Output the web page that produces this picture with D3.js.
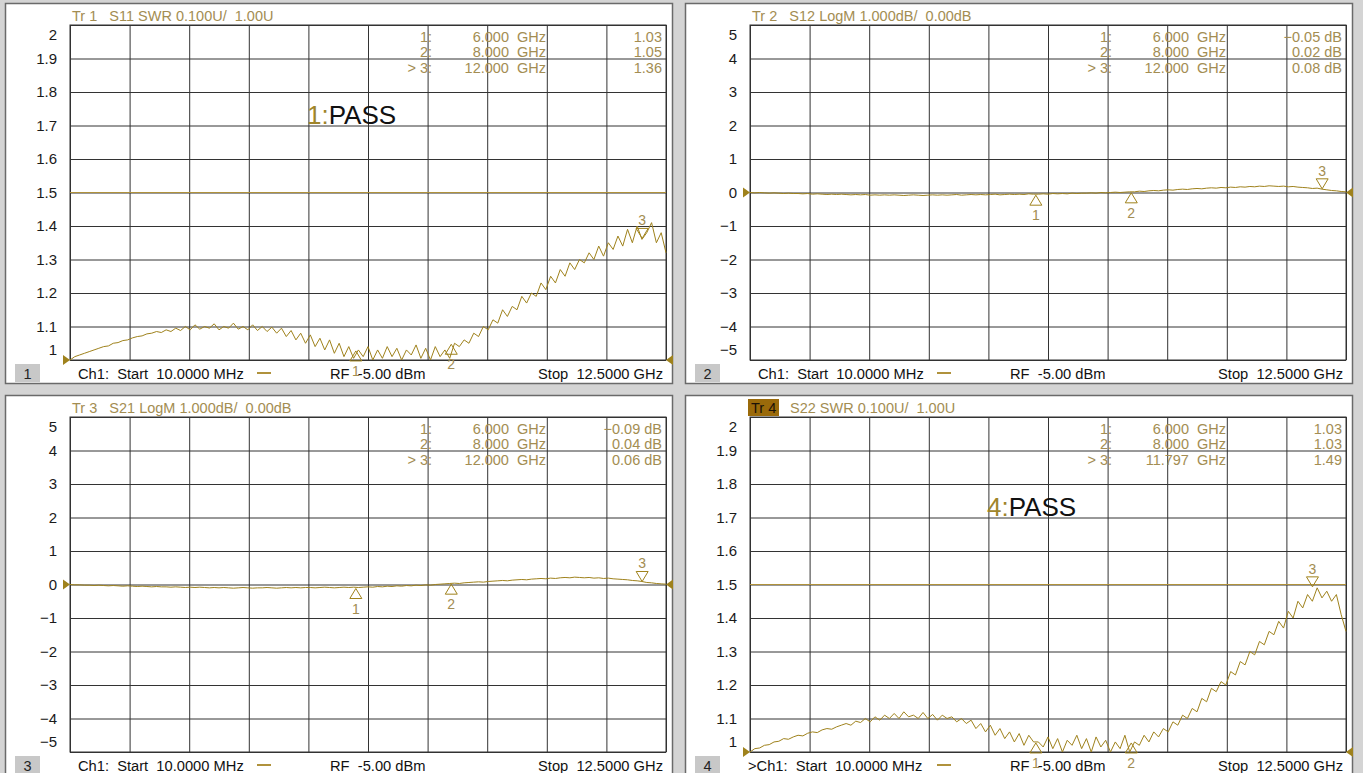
<!DOCTYPE html>
<html>
<head>
<meta charset="utf-8">
<script src="https://cdn.jsdelivr.net/npm/d3@7"></script>
<style>
  body { margin: 0; background: #d4d4d4; font-family: "Liberation Sans", Arial, sans-serif; }
  svg text { white-space: pre; }
</style>
</head>
<body>
<div id="chart"></div>
<script>
// sweep: 125 points, linear from start to stop
const sweepStartGHz = 0.01, sweepStopGHz = 12.5;

// Tr 1  S11 SWR
const s11Swr = [
  1.00,1.01,1.015,1.02,1.025,1.03,1.035,1.04,1.042,1.05,
  1.052,1.058,1.06,1.066,1.07,1.072,1.078,1.08,1.085,1.082,
  1.09,1.085,1.095,1.088,1.10,1.09,1.105,1.092,1.10,1.095,
  1.108,1.09,1.10,1.095,1.11,1.092,1.10,1.09,1.105,1.088,
  1.10,1.085,1.098,1.08,1.095,1.07,1.088,1.06,1.08,1.05,
  1.075,1.04,1.065,1.03,1.06,1.02,1.05,1.01,1.04,1.005,
  1.03,1.01,1.04,1.0,1.03,1.005,1.04,1.01,1.035,1.0,
  1.03,1.015,1.045,1.005,1.035,1.0,1.04,1.01,1.03,1.005,
  1.05,1.04,1.06,1.05,1.08,1.07,1.10,1.09,1.12,1.11,
  1.15,1.13,1.16,1.15,1.19,1.17,1.20,1.19,1.23,1.21,
  1.25,1.23,1.27,1.25,1.29,1.27,1.30,1.29,1.32,1.30,
  1.34,1.31,1.35,1.33,1.37,1.34,1.39,1.35,1.40,1.36,
  1.38,1.41,1.35,1.38,1.32
];

// Tr 2  S12 LogM dB
const s12LogM = [
  0.0,-0.01,0.0,-0.01,-0.02,-0.01,-0.02,-0.03,-0.02,-0.03,
  -0.03,-0.04,-0.03,-0.05,-0.04,-0.05,-0.06,-0.05,-0.06,-0.05,
  -0.06,-0.07,-0.06,-0.07,-0.06,-0.08,-0.07,-0.08,-0.07,-0.08,
  -0.07,-0.08,-0.09,-0.08,-0.07,-0.08,-0.09,-0.08,-0.07,-0.08,
  -0.07,-0.08,-0.07,-0.06,-0.08,-0.07,-0.06,-0.07,-0.06,-0.07,
  -0.06,-0.05,-0.07,-0.06,-0.05,-0.06,-0.05,-0.06,-0.04,-0.05,
  -0.05,-0.04,-0.05,-0.03,-0.04,-0.03,-0.04,-0.02,-0.03,-0.02,
  -0.02,-0.01,-0.02,0.0,-0.01,0.0,0.01,0.0,0.01,0.02,
  0.02,0.04,0.03,0.05,0.06,0.05,0.07,0.08,0.07,0.09,
  0.10,0.09,0.11,0.12,0.11,0.13,0.14,0.13,0.15,0.14,
  0.16,0.15,0.17,0.16,0.18,0.17,0.19,0.18,0.20,0.19,
  0.18,0.19,0.17,0.18,0.16,0.15,0.14,0.12,0.13,0.10,
  0.08,0.06,0.05,0.03,0.02
];

// Tr 3  S21 LogM dB
const s21LogM = [
  0.0,-0.01,-0.01,-0.02,-0.02,-0.03,-0.02,-0.03,-0.04,-0.03,
  -0.04,-0.05,-0.04,-0.05,-0.06,-0.05,-0.06,-0.07,-0.06,-0.07,
  -0.07,-0.08,-0.07,-0.08,-0.09,-0.08,-0.09,-0.08,-0.09,-0.10,
  -0.09,-0.10,-0.09,-0.10,-0.11,-0.10,-0.09,-0.10,-0.11,-0.10,
  -0.10,-0.09,-0.10,-0.11,-0.10,-0.09,-0.10,-0.09,-0.10,-0.09,
  -0.09,-0.10,-0.09,-0.08,-0.09,-0.10,-0.09,-0.08,-0.09,-0.08,
  -0.09,-0.08,-0.07,-0.08,-0.06,-0.07,-0.05,-0.06,-0.04,-0.05,
  -0.03,-0.04,-0.02,-0.03,-0.01,-0.02,0.0,0.01,0.02,0.03,
  0.04,0.03,0.05,0.06,0.07,0.08,0.07,0.09,0.10,0.11,
  0.12,0.11,0.13,0.14,0.15,0.14,0.16,0.17,0.18,0.17,
  0.19,0.18,0.20,0.21,0.20,0.22,0.21,0.20,0.21,0.19,
  0.20,0.18,0.19,0.17,0.16,0.15,0.14,0.12,0.11,0.09,
  0.06,0.05,0.03,0.02,0.01
];

// Tr 4  S22 SWR
const s22Swr = [
  1.00,1.01,1.012,1.02,1.022,1.03,1.032,1.04,1.038,1.045,
  1.05,1.048,1.056,1.06,1.058,1.066,1.07,1.068,1.075,1.08,
  1.085,1.08,1.092,1.088,1.10,1.09,1.105,1.095,1.11,1.10,
  1.115,1.10,1.12,1.105,1.11,1.10,1.118,1.10,1.112,1.095,
  1.11,1.10,1.105,1.09,1.10,1.085,1.095,1.07,1.085,1.06,
  1.08,1.05,1.07,1.04,1.06,1.03,1.055,1.02,1.05,1.03,
  1.03,1.015,1.045,1.01,1.04,1.0,1.035,1.02,1.05,1.01,
  1.04,1.0,1.045,1.015,1.035,1.0,1.03,1.01,1.05,1.0,
  1.03,1.02,1.05,1.03,1.06,1.045,1.07,1.06,1.09,1.08,
  1.11,1.10,1.13,1.12,1.16,1.15,1.19,1.18,1.21,1.20,
  1.24,1.23,1.27,1.26,1.30,1.29,1.33,1.32,1.36,1.35,
  1.39,1.37,1.42,1.40,1.45,1.43,1.47,1.45,1.49,1.46,
  1.48,1.45,1.47,1.41,1.36
];

// marker tables
const mkLabels = ["1:", "2:", "> 3:"];
const mkFreq1 = [6.0, 8.0, 12.0],   mkVal1 = [1.03, 1.05, 1.36];
const mkFreq2 = [6.0, 8.0, 12.0],   mkVal2 = [-0.05, 0.02, 0.08];
const mkFreq3 = [6.0, 8.0, 12.0],   mkVal3 = [-0.09, 0.04, 0.06];
const mkFreq4 = [6.0, 8.0, 11.797], mkVal4 = [1.03, 1.03, 1.49];

const titles = ["Tr 1   S11 SWR 0.100U/  1.00U", "Tr 2   S12 LogM 1.000dB/  0.00dB",
                "Tr 3   S21 LogM 1.000dB/  0.00dB", "S22 SWR 0.100U/  1.00U"];

const gold = "#9f821c", txtGold = "#a38d52";

const panels = [
  {n:1, left:5,   top:3,   title:titles[0], data:s11Swr, yDom:[1,2],  ref:1, limit:1.5, mf:mkFreq1, mv:mkVal1, unit:"",    pass:true,  ch:"Ch1:  Start  10.0000 MHz"},
  {n:2, left:685, top:3,   title:titles[1], data:s12LogM, yDom:[-5,5], ref:0, limit:null, mf:mkFreq2, mv:mkVal2, unit:" dB", pass:false, ch:"Ch1:  Start  10.0000 MHz"},
  {n:3, left:5,   top:395, title:titles[2], data:s21LogM, yDom:[-5,5], ref:0, limit:null, mf:mkFreq3, mv:mkVal3, unit:" dB", pass:false, ch:"Ch1:  Start  10.0000 MHz"},
  {n:4, left:685, top:395, title:titles[3], data:s22Swr, yDom:[1,2],  ref:1, limit:1.5, mf:mkFreq4, mv:mkVal4, unit:"",    pass:true,  ch:">Ch1:  Start  10.0000 MHz"}
];

const svg = d3.select("#chart").append("svg")
  .attr("width", 1363).attr("height", 773);
svg.append("rect").attr("width", 1363).attr("height", 773).attr("fill", "#d4d4d4");

panels.forEach(drawPanel);

function drawPanel(p) {
  const pl = 65, pr = 661, pt = 22, pb = 357;
  const g = svg.append("g").attr("transform", "translate(" + p.left + "," + p.top + ")");

  g.append("rect").attr("x", 0.5).attr("y", 0.5).attr("width", 667).attr("height", 380)
    .attr("fill", "#fff").attr("stroke", "#6a6a6a").attr("stroke-width", 1.5);

  const x = d3.scaleLinear().domain([sweepStartGHz, sweepStopGHz]).range([pl, pr]);
  const y = d3.scaleLinear().domain(p.yDom).range([pb, pt]);
  const n = p.data.length;
  const fOf = i => sweepStartGHz + i * (sweepStopGHz - sweepStartGHz) / (n - 1);

  // grid
  const xGrid = d3.range(11).map(k => sweepStartGHz + k * (sweepStopGHz - sweepStartGHz) / 10);
  g.append("g").attr("transform", "translate(0," + pb + ")")
    .call(d3.axisBottom(x).tickValues(xGrid).tickSize(-(pb - pt)).tickFormat(""))
    .call(s => s.select(".domain").remove())
    .selectAll("line").attr("stroke", "#333");
  g.append("g").attr("transform", "translate(" + pl + ",0)")
    .call(d3.axisLeft(y).ticks(10).tickSize(-(pr - pl)).tickFormat(""))
    .call(s => s.select(".domain").remove())
    .selectAll("line").attr("stroke", "#333");
  g.append("rect").attr("x", pl).attr("y", pt).attr("width", pr - pl).attr("height", pb - pt)
    .attr("fill", "none").attr("stroke", "#333");

  // y labels
  const ya = g.append("g").attr("transform", "translate(" + pl + ",0)")
    .call(d3.axisLeft(y).ticks(10).tickSize(0).tickPadding(13).tickFormat(d3.format("~g")));
  ya.select(".domain").remove();
  ya.selectAll("text").attr("font-size", 15).attr("fill", "#1a1a1a")
    .attr("font-family", "'Liberation Sans', Arial, sans-serif")
    .attr("dy", (d, i, nodes) => i === 0 ? "-0.35em" : (i === nodes.length - 1 ? "0.95em" : "0.32em"));

  // title
  if (p.n === 4) {
    g.append("rect").attr("x", pl - 2).attr("y", 4).attr("width", 31).attr("height", 17).attr("fill", "#9a6a0a");
    g.append("text").attr("x", pl + 1).attr("y", 18).attr("font-size", 14.5).attr("fill", "#1a1208").text("Tr 4");
    g.append("text").attr("x", pl + 40).attr("y", 18).attr("font-size", 14.5).attr("fill", txtGold).text(p.title);
  } else {
    g.append("text").attr("x", pl + 2).attr("y", 18).attr("font-size", 14.5).attr("fill", txtGold).text(p.title);
  }

  // limit line
  if (p.limit !== null) {
    g.append("line").attr("x1", pl).attr("x2", pr).attr("y1", y(p.limit)).attr("y2", y(p.limit))
      .attr("stroke", "#b0923c").attr("stroke-width", 1.2);
  }

  // trace
  const line = d3.line().x((d, i) => x(fOf(i))).y(d => y(d));
  g.append("path").datum(p.data).attr("d", line)
    .attr("fill", "none").attr("stroke", gold).attr("stroke-width", 1);

  // reference arrows
  const ry = y(p.ref);
  g.append("path").attr("d", "M" + (pl - 7) + "," + (ry - 5) + "L" + pl + "," + ry + "L" + (pl - 7) + "," + (ry + 5) + "Z").attr("fill", gold);
  g.append("path").attr("d", "M" + (pr + 7) + "," + (ry - 5) + "L" + pr + "," + ry + "L" + (pr + 7) + "," + (ry + 5) + "Z").attr("fill", gold);

  // markers on trace
  p.mf.forEach((f, i) => {
    const mx = x(f), my = y(p.mv[i]);
    if (i === 2) {
      g.append("path").attr("d", "M" + mx + "," + (my - 1) + "L" + (mx - 6) + "," + (my - 11) + "L" + (mx + 6) + "," + (my - 11) + "Z")
        .attr("fill", "none").attr("stroke", gold);
      g.append("text").attr("x", mx).attr("y", my - 14).attr("text-anchor", "middle")
        .attr("font-size", 14).attr("fill", txtGold).text(String(i + 1));
    } else {
      g.append("path").attr("d", "M" + mx + "," + (my + 1) + "L" + (mx - 6) + "," + (my + 11) + "L" + (mx + 6) + "," + (my + 11) + "Z")
        .attr("fill", "none").attr("stroke", gold);
      g.append("text").attr("x", mx).attr("y", my + 26).attr("text-anchor", "middle")
        .attr("font-size", 14).attr("fill", txtGold).text(String(i + 1));
    }
  });

  // marker table
  const fmtF = d3.format(".3f"), fmtV = d3.format(".2f");
  const rowsY = [39, 54, 70];
  p.mf.forEach((f, i) => {
    g.append("text").attr("x", 427).attr("y", rowsY[i]).attr("text-anchor", "end")
      .attr("font-size", 14.5).attr("fill", txtGold).text(mkLabels[i]);
    g.append("text").attr("x", 541).attr("y", rowsY[i]).attr("text-anchor", "end")
      .attr("font-size", 14.5).attr("fill", txtGold).text(fmtF(f) + "  GHz");
    g.append("text").attr("x", 657).attr("y", rowsY[i]).attr("text-anchor", "end")
      .attr("font-size", 14.5).attr("fill", txtGold).text(fmtV(p.mv[i]) + p.unit);
  });

  // pass/fail
  if (p.pass) {
    const t = g.append("text").attr("x", 302).attr("y", 121).attr("font-size", 26);
    t.append("tspan").attr("fill", "#a0852a").text(p.n + ":");
    t.append("tspan").attr("fill", "#111").text("PASS");
  }

  // status bar
  g.append("rect").attr("x", 10).attr("y", 361).attr("width", 25).attr("height", 18).attr("fill", "#c8c8c8");
  g.append("text").attr("x", 22.5).attr("y", 376).attr("text-anchor", "middle")
    .attr("font-size", 14.5).attr("fill", "#222").text(String(p.n));
  g.append("text").attr("x", p.n === 4 ? pl - 2 : pl + 8).attr("y", 376)
    .attr("font-size", 14.7).attr("fill", "#111").text(p.ch);
  g.append("line").attr("x1", 252).attr("x2", 266).attr("y1", 370).attr("y2", 370)
    .attr("stroke", "#b0923c").attr("stroke-width", 2);
  g.append("text").attr("x", 325).attr("y", 376).attr("font-size", 14.7).attr("fill", "#111").text("RF  -5.00 dBm");
  g.append("text").attr("x", pr - 3).attr("y", 376).attr("text-anchor", "end")
    .attr("font-size", 14.7).attr("fill", "#111").text("Stop  12.5000 GHz");
}
</script>
</body>
</html>
